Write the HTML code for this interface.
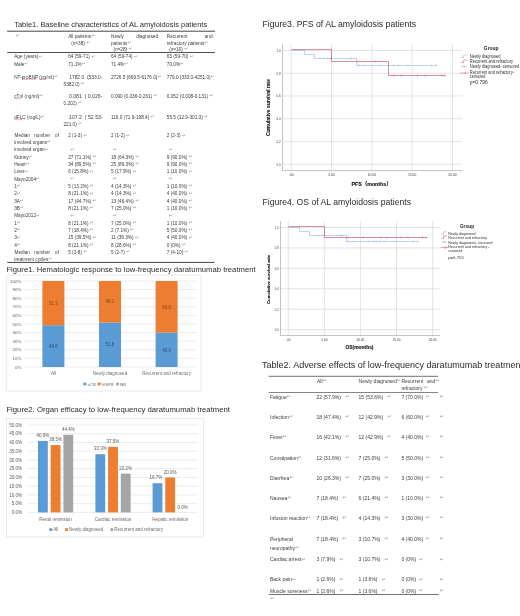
<!DOCTYPE html>
<html lang="en">
<head>
<meta charset="utf-8">
<title>AL amyloidosis tables and figures</title>
<style>
html,body{margin:0;padding:0;background:#fff;}
body{width:520px;height:616px;overflow:hidden;}
svg{display:block;font-family:"Liberation Sans", "DejaVu Sans", "Noto Sans CJK SC", sans-serif;filter:blur(0.3px);}
text{white-space:pre;}
</style>
</head>
<body>
<svg width="520" height="616" viewBox="0 0 520 616" role="img" aria-label="Tables and figures for AL amyloidosis patients">
<text x="14.20" y="26.64" font-size="8.0" fill="#2a2a2a" textLength="193.00" lengthAdjust="spacingAndGlyphs">Table1. Baseline characteristics of AL amyloidosis patients</text>
<text x="6.40" y="272.24" font-size="8.0" fill="#2a2a2a" textLength="249.20" lengthAdjust="spacingAndGlyphs">Figure1. Hematologic response to low-frequency daratumumab treatment</text>
<text x="6.40" y="412.24" font-size="8.0" fill="#2a2a2a" textLength="223.60" lengthAdjust="spacingAndGlyphs">Figure2. Organ efficacy to low-frequency daratumumab treatment</text>
<text x="262.50" y="26.87" font-size="8.6" fill="#2a2a2a" textLength="153.50" lengthAdjust="spacingAndGlyphs">Figure3. PFS of AL amyloidosis patients</text>
<text x="262.50" y="204.87" font-size="8.6" fill="#2a2a2a" textLength="148.50" lengthAdjust="spacingAndGlyphs">Figure4. OS of AL amyloidosis patients</text>
<text x="262.00" y="368.27" font-size="8.6" fill="#2a2a2a" textLength="261.00" lengthAdjust="spacingAndGlyphs">Table2. Adverse effects of low-frequency daratumumab treatment</text>
<line x1="7.20" y1="31.20" x2="215.00" y2="31.20" stroke="#222" stroke-width="0.85"/>
<line x1="7.20" y1="52.50" x2="215.00" y2="52.50" stroke="#222" stroke-width="0.8"/>
<line x1="7.20" y1="262.40" x2="214.50" y2="262.40" stroke="#222" stroke-width="0.85"/>
<text x="15.50" y="37.57" font-size="4.7" fill="#3c3c3c"><tspan fill="#9a9a9a" font-size="4.70" dy="-0.7">↵</tspan></text>
<text x="68.20" y="37.57" font-size="4.7" fill="#3c3c3c">All patients<tspan fill="#9a9a9a" font-size="4.70" dy="-0.7">↵</tspan></text>
<text x="71.20" y="44.57" font-size="4.7" fill="#3c3c3c">(n=38) <tspan fill="#9a9a9a" font-size="4.70" dy="-0.7">↵</tspan></text>
<text x="111.00" y="37.57" font-size="4.7" fill="#3c3c3c">Newly</text>
<text x="158.00" y="37.57" font-size="4.7" fill="#3c3c3c" text-anchor="end">diagnosed</text>
<text x="111.00" y="44.57" font-size="4.7" fill="#3c3c3c">patients<tspan fill="#9a9a9a" font-size="4.70" dy="-0.7">↵</tspan></text>
<text x="113.40" y="50.97" font-size="4.7" fill="#3c3c3c">(n=28) <tspan fill="#9a9a9a" font-size="4.70" dy="-0.7">↵</tspan></text>
<text x="166.80" y="37.57" font-size="4.7" fill="#3c3c3c">Recurrent</text>
<text x="212.50" y="37.57" font-size="4.7" fill="#3c3c3c" text-anchor="end">and</text>
<text x="166.80" y="44.57" font-size="4.7" fill="#3c3c3c">refractory patients<tspan fill="#9a9a9a" font-size="4.70" dy="-0.7">↵</tspan></text>
<text x="169.20" y="50.97" font-size="4.7" fill="#3c3c3c">(n=10) <tspan fill="#9a9a9a" font-size="4.70" dy="-0.7">↵</tspan></text>
<text x="14.20" y="58.27" font-size="4.7" fill="#3c3c3c">Age (years)<tspan fill="#9a9a9a" font-size="4.70" dy="-0.7">↵</tspan></text>
<text x="68.20" y="58.27" font-size="4.7" fill="#3c3c3c">64 (59-71) <tspan fill="#9a9a9a" font-size="4.70" dy="-0.7">↵</tspan></text>
<text x="111.00" y="58.27" font-size="4.7" fill="#3c3c3c">64 (59-74) <tspan fill="#9a9a9a" font-size="4.70" dy="-0.7">↵</tspan></text>
<text x="166.80" y="58.27" font-size="4.7" fill="#3c3c3c">65 (59-70) <tspan fill="#9a9a9a" font-size="4.70" dy="-0.7">↵</tspan></text>
<text x="14.20" y="65.77" font-size="4.7" fill="#3c3c3c">Male<tspan fill="#9a9a9a" font-size="4.70" dy="-0.7">↵</tspan></text>
<text x="68.20" y="65.77" font-size="4.7" fill="#3c3c3c">71.1%<tspan fill="#9a9a9a" font-size="4.70" dy="-0.7">↵</tspan></text>
<text x="111.00" y="65.77" font-size="4.7" fill="#3c3c3c">71.4%<tspan fill="#9a9a9a" font-size="4.70" dy="-0.7">↵</tspan></text>
<text x="166.80" y="65.77" font-size="4.7" fill="#3c3c3c">70.0%<tspan fill="#9a9a9a" font-size="4.70" dy="-0.7">↵</tspan></text>
<text x="14.20" y="78.87" font-size="4.7" fill="#3c3c3c">NT-proBNP (pg/ml)<tspan fill="#9a9a9a" font-size="4.70" dy="-0.7">↵</tspan></text>
<text x="111.00" y="78.87" font-size="4.7" fill="#3c3c3c">2726.5 (669.5-6176.0)<tspan fill="#9a9a9a" font-size="4.70" dy="-0.7">↵</tspan></text>
<text x="166.80" y="78.87" font-size="4.7" fill="#3c3c3c">779.0 (333.0-4251.0)<tspan fill="#9a9a9a" font-size="4.70" dy="-0.7">↵</tspan></text>
<text x="14.20" y="98.07" font-size="4.7" fill="#3c3c3c">cTnI (ng/ml)<tspan fill="#9a9a9a" font-size="4.70" dy="-0.7">↵</tspan></text>
<text x="111.00" y="98.07" font-size="4.7" fill="#3c3c3c">0.090 (0.036-0.261) <tspan fill="#9a9a9a" font-size="4.70" dy="-0.7">↵</tspan></text>
<text x="166.80" y="98.07" font-size="4.7" fill="#3c3c3c">0.052 (0.008-0.131) <tspan fill="#9a9a9a" font-size="4.70" dy="-0.7">↵</tspan></text>
<text x="14.20" y="119.17" font-size="4.7" fill="#3c3c3c">dFLC (mg/L)<tspan fill="#9a9a9a" font-size="4.70" dy="-0.7">↵</tspan></text>
<text x="111.00" y="119.17" font-size="4.7" fill="#3c3c3c">116.0 (71.9-198.4) <tspan fill="#9a9a9a" font-size="4.70" dy="-0.7">↵</tspan></text>
<text x="166.80" y="119.17" font-size="4.7" fill="#3c3c3c">55.5 (12.9-301.3) <tspan fill="#9a9a9a" font-size="4.70" dy="-0.7">↵</tspan></text>
<text x="68.20" y="137.47" font-size="4.7" fill="#3c3c3c">2 (1-3) <tspan fill="#9a9a9a" font-size="4.70" dy="-0.7">↵</tspan></text>
<text x="111.00" y="137.47" font-size="4.7" fill="#3c3c3c">2 (1-2) <tspan fill="#9a9a9a" font-size="4.70" dy="-0.7">↵</tspan></text>
<text x="166.80" y="137.47" font-size="4.7" fill="#3c3c3c">2 (2-3) <tspan fill="#9a9a9a" font-size="4.70" dy="-0.7">↵</tspan></text>
<text x="14.20" y="151.37" font-size="4.7" fill="#3c3c3c">involved organ<tspan fill="#9a9a9a" font-size="4.70" dy="-0.7">↵</tspan></text>
<text x="70.20" y="151.37" font-size="4.7" fill="#3c3c3c"><tspan fill="#9a9a9a" font-size="4.70" dy="-0.7">↵</tspan></text>
<text x="113.00" y="151.37" font-size="4.7" fill="#3c3c3c"><tspan fill="#9a9a9a" font-size="4.70" dy="-0.7">↵</tspan></text>
<text x="168.80" y="151.37" font-size="4.7" fill="#3c3c3c"><tspan fill="#9a9a9a" font-size="4.70" dy="-0.7">↵</tspan></text>
<text x="14.20" y="158.77" font-size="4.7" fill="#3c3c3c">Kidney<tspan fill="#9a9a9a" font-size="4.70" dy="-0.7">↵</tspan></text>
<text x="68.20" y="158.77" font-size="4.7" fill="#3c3c3c">27 (71.1%) <tspan fill="#9a9a9a" font-size="4.70" dy="-0.7">↵</tspan></text>
<text x="111.00" y="158.77" font-size="4.7" fill="#3c3c3c">18 (64.3%) <tspan fill="#9a9a9a" font-size="4.70" dy="-0.7">↵</tspan></text>
<text x="166.80" y="158.77" font-size="4.7" fill="#3c3c3c">9 (90.0%) <tspan fill="#9a9a9a" font-size="4.70" dy="-0.7">↵</tspan></text>
<text x="14.20" y="166.07" font-size="4.7" fill="#3c3c3c">Heart<tspan fill="#9a9a9a" font-size="4.70" dy="-0.7">↵</tspan></text>
<text x="68.20" y="166.07" font-size="4.7" fill="#3c3c3c">34 (89.5%) <tspan fill="#9a9a9a" font-size="4.70" dy="-0.7">↵</tspan></text>
<text x="111.00" y="166.07" font-size="4.7" fill="#3c3c3c">25 (89.3%) <tspan fill="#9a9a9a" font-size="4.70" dy="-0.7">↵</tspan></text>
<text x="166.80" y="166.07" font-size="4.7" fill="#3c3c3c">9 (90.0%) <tspan fill="#9a9a9a" font-size="4.70" dy="-0.7">↵</tspan></text>
<text x="14.20" y="173.37" font-size="4.7" fill="#3c3c3c">Liver<tspan fill="#9a9a9a" font-size="4.70" dy="-0.7">↵</tspan></text>
<text x="68.20" y="173.37" font-size="4.7" fill="#3c3c3c">6 (15.8%) <tspan fill="#9a9a9a" font-size="4.70" dy="-0.7">↵</tspan></text>
<text x="111.00" y="173.37" font-size="4.7" fill="#3c3c3c">5 (17.9%) <tspan fill="#9a9a9a" font-size="4.70" dy="-0.7">↵</tspan></text>
<text x="166.80" y="173.37" font-size="4.7" fill="#3c3c3c">1 (10.0%) <tspan fill="#9a9a9a" font-size="4.70" dy="-0.7">↵</tspan></text>
<text x="14.20" y="180.67" font-size="4.7" fill="#3c3c3c">Mayo2004<tspan fill="#9a9a9a" font-size="4.70" dy="-0.7">↵</tspan></text>
<text x="70.20" y="180.67" font-size="4.7" fill="#3c3c3c"><tspan fill="#9a9a9a" font-size="4.70" dy="-0.7">↵</tspan></text>
<text x="113.00" y="180.67" font-size="4.7" fill="#3c3c3c"><tspan fill="#9a9a9a" font-size="4.70" dy="-0.7">↵</tspan></text>
<text x="168.80" y="180.67" font-size="4.7" fill="#3c3c3c"><tspan fill="#9a9a9a" font-size="4.70" dy="-0.7">↵</tspan></text>
<text x="14.20" y="188.07" font-size="4.7" fill="#3c3c3c">1<tspan fill="#9a9a9a" font-size="4.70" dy="-0.7">↵</tspan></text>
<text x="68.20" y="188.07" font-size="4.7" fill="#3c3c3c">5 (13.2%) <tspan fill="#9a9a9a" font-size="4.70" dy="-0.7">↵</tspan></text>
<text x="111.00" y="188.07" font-size="4.7" fill="#3c3c3c">4 (14.3%) <tspan fill="#9a9a9a" font-size="4.70" dy="-0.7">↵</tspan></text>
<text x="166.80" y="188.07" font-size="4.7" fill="#3c3c3c">1 (10.0%) <tspan fill="#9a9a9a" font-size="4.70" dy="-0.7">↵</tspan></text>
<text x="14.20" y="195.37" font-size="4.7" fill="#3c3c3c">2<tspan fill="#9a9a9a" font-size="4.70" dy="-0.7">↵</tspan></text>
<text x="68.20" y="195.37" font-size="4.7" fill="#3c3c3c">8 (21.1%) <tspan fill="#9a9a9a" font-size="4.70" dy="-0.7">↵</tspan></text>
<text x="111.00" y="195.37" font-size="4.7" fill="#3c3c3c">4 (14.3%) <tspan fill="#9a9a9a" font-size="4.70" dy="-0.7">↵</tspan></text>
<text x="166.80" y="195.37" font-size="4.7" fill="#3c3c3c">4 (40.0%) <tspan fill="#9a9a9a" font-size="4.70" dy="-0.7">↵</tspan></text>
<text x="14.20" y="202.67" font-size="4.7" fill="#3c3c3c">3A<tspan fill="#9a9a9a" font-size="4.70" dy="-0.7">↵</tspan></text>
<text x="68.20" y="202.67" font-size="4.7" fill="#3c3c3c">17 (44.7%) <tspan fill="#9a9a9a" font-size="4.70" dy="-0.7">↵</tspan></text>
<text x="111.00" y="202.67" font-size="4.7" fill="#3c3c3c">13 (46.4%) <tspan fill="#9a9a9a" font-size="4.70" dy="-0.7">↵</tspan></text>
<text x="166.80" y="202.67" font-size="4.7" fill="#3c3c3c">4 (40.0%) <tspan fill="#9a9a9a" font-size="4.70" dy="-0.7">↵</tspan></text>
<text x="14.20" y="209.97" font-size="4.7" fill="#3c3c3c">3B<tspan fill="#9a9a9a" font-size="4.70" dy="-0.7">↵</tspan></text>
<text x="68.20" y="209.97" font-size="4.7" fill="#3c3c3c">8 (21.1%) <tspan fill="#9a9a9a" font-size="4.70" dy="-0.7">↵</tspan></text>
<text x="111.00" y="209.97" font-size="4.7" fill="#3c3c3c">7 (25.0%) <tspan fill="#9a9a9a" font-size="4.70" dy="-0.7">↵</tspan></text>
<text x="166.80" y="209.97" font-size="4.7" fill="#3c3c3c">1 (10.0%) <tspan fill="#9a9a9a" font-size="4.70" dy="-0.7">↵</tspan></text>
<text x="14.20" y="217.37" font-size="4.7" fill="#3c3c3c">Mayo2012<tspan fill="#9a9a9a" font-size="4.70" dy="-0.7">↵</tspan></text>
<text x="70.20" y="217.37" font-size="4.7" fill="#3c3c3c"><tspan fill="#9a9a9a" font-size="4.70" dy="-0.7">↵</tspan></text>
<text x="113.00" y="217.37" font-size="4.7" fill="#3c3c3c"><tspan fill="#9a9a9a" font-size="4.70" dy="-0.7">↵</tspan></text>
<text x="168.80" y="217.37" font-size="4.7" fill="#3c3c3c"><tspan fill="#9a9a9a" font-size="4.70" dy="-0.7">↵</tspan></text>
<text x="14.20" y="224.77" font-size="4.7" fill="#3c3c3c">1<tspan fill="#9a9a9a" font-size="4.70" dy="-0.7">↵</tspan></text>
<text x="68.20" y="224.77" font-size="4.7" fill="#3c3c3c">8 (21.1%) <tspan fill="#9a9a9a" font-size="4.70" dy="-0.7">↵</tspan></text>
<text x="111.00" y="224.77" font-size="4.7" fill="#3c3c3c">7 (25.0%) <tspan fill="#9a9a9a" font-size="4.70" dy="-0.7">↵</tspan></text>
<text x="166.80" y="224.77" font-size="4.7" fill="#3c3c3c">1 (10.0%) <tspan fill="#9a9a9a" font-size="4.70" dy="-0.7">↵</tspan></text>
<text x="14.20" y="232.17" font-size="4.7" fill="#3c3c3c">2<tspan fill="#9a9a9a" font-size="4.70" dy="-0.7">↵</tspan></text>
<text x="68.20" y="232.17" font-size="4.7" fill="#3c3c3c">7 (18.4%) <tspan fill="#9a9a9a" font-size="4.70" dy="-0.7">↵</tspan></text>
<text x="111.00" y="232.17" font-size="4.7" fill="#3c3c3c">2 (7.1%) <tspan fill="#9a9a9a" font-size="4.70" dy="-0.7">↵</tspan></text>
<text x="166.80" y="232.17" font-size="4.7" fill="#3c3c3c">5 (50.0%) <tspan fill="#9a9a9a" font-size="4.70" dy="-0.7">↵</tspan></text>
<text x="14.20" y="239.47" font-size="4.7" fill="#3c3c3c">3<tspan fill="#9a9a9a" font-size="4.70" dy="-0.7">↵</tspan></text>
<text x="68.20" y="239.47" font-size="4.7" fill="#3c3c3c">15 (39.5%) <tspan fill="#9a9a9a" font-size="4.70" dy="-0.7">↵</tspan></text>
<text x="111.00" y="239.47" font-size="4.7" fill="#3c3c3c">11 (39.3%) <tspan fill="#9a9a9a" font-size="4.70" dy="-0.7">↵</tspan></text>
<text x="166.80" y="239.47" font-size="4.7" fill="#3c3c3c">4 (40.0%) <tspan fill="#9a9a9a" font-size="4.70" dy="-0.7">↵</tspan></text>
<text x="14.20" y="246.77" font-size="4.7" fill="#3c3c3c">4<tspan fill="#9a9a9a" font-size="4.70" dy="-0.7">↵</tspan></text>
<text x="68.20" y="246.77" font-size="4.7" fill="#3c3c3c">8 (21.1%) <tspan fill="#9a9a9a" font-size="4.70" dy="-0.7">↵</tspan></text>
<text x="111.00" y="246.77" font-size="4.7" fill="#3c3c3c">8 (28.6%) <tspan fill="#9a9a9a" font-size="4.70" dy="-0.7">↵</tspan></text>
<text x="166.80" y="246.77" font-size="4.7" fill="#3c3c3c">0 (0%) <tspan fill="#9a9a9a" font-size="4.70" dy="-0.7">↵</tspan></text>
<text x="68.20" y="253.97" font-size="4.7" fill="#3c3c3c">5 (2-8) <tspan fill="#9a9a9a" font-size="4.70" dy="-0.7">↵</tspan></text>
<text x="111.00" y="253.97" font-size="4.7" fill="#3c3c3c">5 (2-7) <tspan fill="#9a9a9a" font-size="4.70" dy="-0.7">↵</tspan></text>
<text x="166.80" y="253.97" font-size="4.7" fill="#3c3c3c">7 (4-10) <tspan fill="#9a9a9a" font-size="4.70" dy="-0.7">↵</tspan></text>
<text x="69.20" y="78.87" font-size="4.7" fill="#3c3c3c" textLength="33.20" lengthAdjust="spacingAndGlyphs">1782.0  (533.0-</text>
<text x="63.60" y="85.67" font-size="4.7" fill="#3c3c3c">5382.0) <tspan fill="#9a9a9a" font-size="4.70" dy="-0.7">↵</tspan></text>
<text x="68.90" y="98.07" font-size="4.7" fill="#3c3c3c" textLength="33.50" lengthAdjust="spacingAndGlyphs">0.081  ( 0.026-</text>
<text x="63.50" y="104.97" font-size="4.7" fill="#3c3c3c">0.202) <tspan fill="#9a9a9a" font-size="4.70" dy="-0.7">↵</tspan></text>
<text x="69.10" y="119.17" font-size="4.7" fill="#3c3c3c" textLength="33.50" lengthAdjust="spacingAndGlyphs">107.2  ( 52.53-</text>
<text x="63.50" y="125.87" font-size="4.7" fill="#3c3c3c">221.0) <tspan fill="#9a9a9a" font-size="4.70" dy="-0.7">↵</tspan></text>
<text x="14.60" y="137.47" font-size="4.7" fill="#3c3c3c">Median</text>
<text x="42.20" y="137.47" font-size="4.7" fill="#3c3c3c" text-anchor="middle">number</text>
<text x="59.00" y="137.47" font-size="4.7" fill="#3c3c3c" text-anchor="end">of</text>
<text x="14.20" y="144.17" font-size="4.7" fill="#3c3c3c">involved organs<tspan fill="#9a9a9a" font-size="4.70" dy="-0.7">↵</tspan></text>
<text x="14.60" y="253.97" font-size="4.7" fill="#3c3c3c">Median</text>
<text x="42.20" y="253.97" font-size="4.7" fill="#3c3c3c" text-anchor="middle">number</text>
<text x="59.00" y="253.97" font-size="4.7" fill="#3c3c3c" text-anchor="end">of</text>
<text x="14.20" y="260.57" font-size="4.7" fill="#3c3c3c">treatment cycles<tspan fill="#9a9a9a" font-size="4.70" dy="-0.7">↵</tspan></text>
<line x1="22.50" y1="79.30" x2="36.50" y2="79.30" stroke="#e06060" stroke-width="0.5"/>
<line x1="39.20" y1="79.30" x2="44.60" y2="79.30" stroke="#e06060" stroke-width="0.5"/>
<line x1="14.20" y1="98.60" x2="20.60" y2="98.60" stroke="#e06060" stroke-width="0.5"/>
<line x1="14.20" y1="119.70" x2="22.40" y2="119.70" stroke="#e06060" stroke-width="0.5"/>
<rect x="6.80" y="275.00" width="194.20" height="116.00" fill="#fff" stroke="#dedede" stroke-width="0.6"/>
<line x1="25.00" y1="367.00" x2="196.00" y2="367.00" stroke="#d9d9d9" stroke-width="0.5"/>
<text x="21.30" y="368.67" font-size="4.4" fill="#5e5e5e" text-anchor="end">0%</text>
<line x1="25.00" y1="358.40" x2="196.00" y2="358.40" stroke="#d9d9d9" stroke-width="0.5"/>
<text x="21.30" y="360.07" font-size="4.4" fill="#5e5e5e" text-anchor="end">10%</text>
<line x1="25.00" y1="349.80" x2="196.00" y2="349.80" stroke="#d9d9d9" stroke-width="0.5"/>
<text x="21.30" y="351.47" font-size="4.4" fill="#5e5e5e" text-anchor="end">20%</text>
<line x1="25.00" y1="341.20" x2="196.00" y2="341.20" stroke="#d9d9d9" stroke-width="0.5"/>
<text x="21.30" y="342.87" font-size="4.4" fill="#5e5e5e" text-anchor="end">30%</text>
<line x1="25.00" y1="332.60" x2="196.00" y2="332.60" stroke="#d9d9d9" stroke-width="0.5"/>
<text x="21.30" y="334.27" font-size="4.4" fill="#5e5e5e" text-anchor="end">40%</text>
<line x1="25.00" y1="324.00" x2="196.00" y2="324.00" stroke="#d9d9d9" stroke-width="0.5"/>
<text x="21.30" y="325.67" font-size="4.4" fill="#5e5e5e" text-anchor="end">50%</text>
<line x1="25.00" y1="315.40" x2="196.00" y2="315.40" stroke="#d9d9d9" stroke-width="0.5"/>
<text x="21.30" y="317.07" font-size="4.4" fill="#5e5e5e" text-anchor="end">60%</text>
<line x1="25.00" y1="306.80" x2="196.00" y2="306.80" stroke="#d9d9d9" stroke-width="0.5"/>
<text x="21.30" y="308.47" font-size="4.4" fill="#5e5e5e" text-anchor="end">70%</text>
<line x1="25.00" y1="298.20" x2="196.00" y2="298.20" stroke="#d9d9d9" stroke-width="0.5"/>
<text x="21.30" y="299.87" font-size="4.4" fill="#5e5e5e" text-anchor="end">80%</text>
<line x1="25.00" y1="289.60" x2="196.00" y2="289.60" stroke="#d9d9d9" stroke-width="0.5"/>
<text x="21.30" y="291.27" font-size="4.4" fill="#5e5e5e" text-anchor="end">90%</text>
<line x1="25.00" y1="281.00" x2="196.00" y2="281.00" stroke="#d9d9d9" stroke-width="0.5"/>
<text x="21.30" y="282.67" font-size="4.4" fill="#5e5e5e" text-anchor="end">100%</text>
<rect x="42.40" y="325.20" width="22.00" height="41.80" fill="#5b9bd5"/>
<rect x="42.40" y="281.00" width="22.00" height="44.20" fill="#ed7d31"/>
<text x="53.40" y="347.81" font-size="4.5" fill="#2f4d70" text-anchor="middle">48.6</text>
<text x="53.40" y="304.81" font-size="4.5" fill="#8a4413" text-anchor="middle">51.3</text>
<text x="53.40" y="374.91" font-size="4.5" fill="#707070" text-anchor="middle">All</text>
<rect x="99.00" y="322.45" width="22.00" height="44.55" fill="#5b9bd5"/>
<rect x="99.00" y="281.00" width="22.00" height="41.45" fill="#ed7d31"/>
<text x="110.00" y="346.44" font-size="4.5" fill="#2f4d70" text-anchor="middle">51.8</text>
<text x="110.00" y="303.44" font-size="4.5" fill="#8a4413" text-anchor="middle">48.1</text>
<text x="110.00" y="374.91" font-size="4.5" fill="#707070" text-anchor="middle">Newly diagnosed</text>
<rect x="155.60" y="332.60" width="22.00" height="34.40" fill="#5b9bd5"/>
<rect x="155.60" y="281.00" width="22.00" height="51.60" fill="#ed7d31"/>
<text x="166.60" y="351.51" font-size="4.5" fill="#2f4d70" text-anchor="middle">40.0</text>
<text x="166.60" y="308.51" font-size="4.5" fill="#8a4413" text-anchor="middle">60.0</text>
<text x="166.60" y="374.91" font-size="4.5" fill="#707070" text-anchor="middle">Recurrent and refractory</text>
<rect x="83.40" y="382.60" width="2.80" height="2.80" fill="#5b9bd5"/>
<text x="87.40" y="385.63" font-size="4.3" fill="#5a5a5a">sCR</text>
<rect x="97.80" y="382.60" width="2.80" height="2.80" fill="#ed7d31"/>
<text x="101.40" y="385.63" font-size="4.3" fill="#5a5a5a">VGPR</text>
<rect x="116.20" y="382.60" width="2.80" height="2.80" fill="#a5a5a5"/>
<text x="120.00" y="385.63" font-size="4.3" fill="#5a5a5a">NR</text>
<rect x="6.40" y="418.40" width="197.00" height="118.60" fill="#fff" stroke="#dedede" stroke-width="0.6"/>
<line x1="27.00" y1="512.40" x2="198.00" y2="512.40" stroke="#d9d9d9" stroke-width="0.5"/>
<text x="22.20" y="514.15" font-size="4.6" fill="#5e5e5e" text-anchor="end">0.0%</text>
<line x1="27.00" y1="503.66" x2="198.00" y2="503.66" stroke="#d9d9d9" stroke-width="0.5"/>
<text x="22.20" y="505.41" font-size="4.6" fill="#5e5e5e" text-anchor="end">5.0%</text>
<line x1="27.00" y1="494.92" x2="198.00" y2="494.92" stroke="#d9d9d9" stroke-width="0.5"/>
<text x="22.20" y="496.67" font-size="4.6" fill="#5e5e5e" text-anchor="end">10.0%</text>
<line x1="27.00" y1="486.18" x2="198.00" y2="486.18" stroke="#d9d9d9" stroke-width="0.5"/>
<text x="22.20" y="487.93" font-size="4.6" fill="#5e5e5e" text-anchor="end">15.0%</text>
<line x1="27.00" y1="477.44" x2="198.00" y2="477.44" stroke="#d9d9d9" stroke-width="0.5"/>
<text x="22.20" y="479.19" font-size="4.6" fill="#5e5e5e" text-anchor="end">20.0%</text>
<line x1="27.00" y1="468.70" x2="198.00" y2="468.70" stroke="#d9d9d9" stroke-width="0.5"/>
<text x="22.20" y="470.45" font-size="4.6" fill="#5e5e5e" text-anchor="end">25.0%</text>
<line x1="27.00" y1="459.96" x2="198.00" y2="459.96" stroke="#d9d9d9" stroke-width="0.5"/>
<text x="22.20" y="461.71" font-size="4.6" fill="#5e5e5e" text-anchor="end">30.0%</text>
<line x1="27.00" y1="451.22" x2="198.00" y2="451.22" stroke="#d9d9d9" stroke-width="0.5"/>
<text x="22.20" y="452.97" font-size="4.6" fill="#5e5e5e" text-anchor="end">35.0%</text>
<line x1="27.00" y1="442.48" x2="198.00" y2="442.48" stroke="#d9d9d9" stroke-width="0.5"/>
<text x="22.20" y="444.23" font-size="4.6" fill="#5e5e5e" text-anchor="end">40.0%</text>
<line x1="27.00" y1="433.74" x2="198.00" y2="433.74" stroke="#d9d9d9" stroke-width="0.5"/>
<text x="22.20" y="435.49" font-size="4.6" fill="#5e5e5e" text-anchor="end">45.0%</text>
<line x1="27.00" y1="425.00" x2="198.00" y2="425.00" stroke="#d9d9d9" stroke-width="0.5"/>
<text x="22.20" y="426.75" font-size="4.6" fill="#5e5e5e" text-anchor="end">50.0%</text>
<rect x="38.00" y="440.91" width="9.80" height="71.49" fill="#5b9bd5"/>
<text x="42.90" y="437.12" font-size="4.5" fill="#5a5a5a" text-anchor="middle">40.9%</text>
<rect x="50.70" y="445.10" width="9.80" height="67.30" fill="#ed7d31"/>
<text x="55.60" y="441.31" font-size="4.5" fill="#5a5a5a" text-anchor="middle">38.5%</text>
<rect x="63.40" y="434.79" width="9.80" height="77.61" fill="#a5a5a5"/>
<text x="68.30" y="431.00" font-size="4.5" fill="#5a5a5a" text-anchor="middle">44.4%</text>
<text x="55.60" y="520.93" font-size="4.55" fill="#6a6a6a" text-anchor="middle">Renal remission</text>
<rect x="95.40" y="454.19" width="9.80" height="58.21" fill="#5b9bd5"/>
<text x="100.30" y="450.40" font-size="4.5" fill="#5a5a5a" text-anchor="middle">33.3%</text>
<rect x="108.10" y="446.85" width="9.80" height="65.55" fill="#ed7d31"/>
<text x="113.00" y="443.06" font-size="4.5" fill="#5a5a5a" text-anchor="middle">37.5%</text>
<rect x="120.80" y="473.59" width="9.80" height="38.81" fill="#a5a5a5"/>
<text x="125.70" y="469.80" font-size="4.5" fill="#5a5a5a" text-anchor="middle">22.2%</text>
<text x="113.00" y="520.93" font-size="4.55" fill="#6a6a6a" text-anchor="middle">Cardiac remission</text>
<rect x="152.60" y="483.21" width="9.80" height="29.19" fill="#5b9bd5"/>
<text x="156.00" y="479.42" font-size="4.5" fill="#5a5a5a" text-anchor="middle">16.7%</text>
<rect x="165.30" y="477.44" width="9.80" height="34.96" fill="#ed7d31"/>
<text x="170.20" y="473.65" font-size="4.5" fill="#5a5a5a" text-anchor="middle">20.0%</text>
<text x="182.70" y="508.61" font-size="4.5" fill="#5a5a5a" text-anchor="middle">0.0%</text>
<text x="170.20" y="520.93" font-size="4.55" fill="#6a6a6a" text-anchor="middle">Hepatic remission</text>
<rect x="49.40" y="528.20" width="2.80" height="2.80" fill="#5b9bd5"/>
<text x="53.20" y="531.31" font-size="4.5" fill="#6a6a6a">All</text>
<rect x="65.20" y="528.20" width="2.80" height="2.80" fill="#ed7d31"/>
<text x="69.00" y="531.31" font-size="4.5" fill="#6a6a6a">Newly diagnosed</text>
<rect x="110.40" y="528.20" width="2.80" height="2.80" fill="#a5a5a5"/>
<text x="114.20" y="531.31" font-size="4.5" fill="#6a6a6a">Recurrent and refractory</text>
<line x1="282.50" y1="164.20" x2="462.50" y2="164.20" stroke="#c8c8c8" stroke-width="0.5"/>
<text x="280.70" y="165.64" font-size="3.0" fill="#3a3a3a" text-anchor="end">0.0</text>
<line x1="282.50" y1="141.46" x2="462.50" y2="141.46" stroke="#c8c8c8" stroke-width="0.5"/>
<text x="280.70" y="142.90" font-size="3.0" fill="#3a3a3a" text-anchor="end">0.2</text>
<line x1="282.50" y1="118.72" x2="462.50" y2="118.72" stroke="#c8c8c8" stroke-width="0.5"/>
<text x="280.70" y="120.16" font-size="3.0" fill="#3a3a3a" text-anchor="end">0.4</text>
<line x1="282.50" y1="95.98" x2="462.50" y2="95.98" stroke="#c8c8c8" stroke-width="0.5"/>
<text x="280.70" y="97.42" font-size="3.0" fill="#3a3a3a" text-anchor="end">0.6</text>
<line x1="282.50" y1="73.24" x2="462.50" y2="73.24" stroke="#c8c8c8" stroke-width="0.5"/>
<text x="280.70" y="74.68" font-size="3.0" fill="#3a3a3a" text-anchor="end">0.8</text>
<line x1="282.50" y1="50.50" x2="462.50" y2="50.50" stroke="#c8c8c8" stroke-width="0.5"/>
<text x="280.70" y="51.94" font-size="3.0" fill="#3a3a3a" text-anchor="end">1.0</text>
<line x1="291.25" y1="44.50" x2="291.25" y2="170.60" stroke="#c8c8c8" stroke-width="0.5"/>
<text x="291.25" y="176.48" font-size="3.3600000000000003" fill="#3a3a3a" text-anchor="middle">.00</text>
<line x1="331.55" y1="44.50" x2="331.55" y2="170.60" stroke="#c8c8c8" stroke-width="0.5"/>
<text x="331.55" y="176.48" font-size="3.3600000000000003" fill="#3a3a3a" text-anchor="middle">5.00</text>
<line x1="371.85" y1="44.50" x2="371.85" y2="170.60" stroke="#c8c8c8" stroke-width="0.5"/>
<text x="371.85" y="176.48" font-size="3.3600000000000003" fill="#3a3a3a" text-anchor="middle">10.00</text>
<line x1="412.15" y1="44.50" x2="412.15" y2="170.60" stroke="#c8c8c8" stroke-width="0.5"/>
<text x="412.15" y="176.48" font-size="3.3600000000000003" fill="#3a3a3a" text-anchor="middle">15.00</text>
<line x1="452.45" y1="44.50" x2="452.45" y2="170.60" stroke="#c8c8c8" stroke-width="0.5"/>
<text x="452.45" y="176.48" font-size="3.3600000000000003" fill="#3a3a3a" text-anchor="middle">20.00</text>
<line x1="282.50" y1="44.50" x2="282.50" y2="170.60" stroke="#9a9a9a" stroke-width="0.6"/>
<line x1="282.50" y1="170.60" x2="462.50" y2="170.60" stroke="#9a9a9a" stroke-width="0.6"/>
<path d="M291.25,50.50 L304.50,50.50 L304.50,54.50 L314.50,54.50 L314.50,58.50 L356.50,58.50 L356.50,65.50 L436.50,65.50" fill="none" stroke="#7fa8d6" stroke-width="0.5"/>
<path d="M291.25,49.50 L331.50,49.50 L331.50,61.50 L388.50,61.50 L388.50,75.50 L445.50,75.50" fill="none" stroke="#bf4562" stroke-width="0.6"/>
<line x1="320.00" y1="57.50" x2="320.00" y2="59.50" stroke="#7fa8d6" stroke-width="0.5"/>
<line x1="323.75" y1="57.50" x2="323.75" y2="59.50" stroke="#7fa8d6" stroke-width="0.5"/>
<line x1="327.50" y1="57.50" x2="327.50" y2="59.50" stroke="#7fa8d6" stroke-width="0.5"/>
<line x1="330.75" y1="57.50" x2="330.75" y2="59.50" stroke="#7fa8d6" stroke-width="0.5"/>
<line x1="351.25" y1="57.50" x2="351.25" y2="59.50" stroke="#7fa8d6" stroke-width="0.5"/>
<line x1="358.75" y1="64.50" x2="358.75" y2="66.50" stroke="#7fa8d6" stroke-width="0.5"/>
<line x1="364.50" y1="64.50" x2="364.50" y2="66.50" stroke="#7fa8d6" stroke-width="0.5"/>
<line x1="380.50" y1="64.50" x2="380.50" y2="66.50" stroke="#7fa8d6" stroke-width="0.5"/>
<line x1="388.75" y1="64.50" x2="388.75" y2="66.50" stroke="#7fa8d6" stroke-width="0.5"/>
<line x1="393.75" y1="64.50" x2="393.75" y2="66.50" stroke="#7fa8d6" stroke-width="0.5"/>
<line x1="398.75" y1="64.50" x2="398.75" y2="66.50" stroke="#7fa8d6" stroke-width="0.5"/>
<line x1="408.00" y1="64.50" x2="408.00" y2="66.50" stroke="#7fa8d6" stroke-width="0.5"/>
<line x1="431.25" y1="64.50" x2="431.25" y2="66.50" stroke="#7fa8d6" stroke-width="0.5"/>
<line x1="436.25" y1="64.50" x2="436.25" y2="66.50" stroke="#7fa8d6" stroke-width="0.5"/>
<line x1="358.00" y1="60.50" x2="358.00" y2="62.50" stroke="#bf4562" stroke-width="0.5"/>
<line x1="375.00" y1="60.50" x2="375.00" y2="62.50" stroke="#bf4562" stroke-width="0.5"/>
<line x1="393.75" y1="74.50" x2="393.75" y2="76.50" stroke="#bf4562" stroke-width="0.5"/>
<line x1="401.25" y1="74.50" x2="401.25" y2="76.50" stroke="#bf4562" stroke-width="0.5"/>
<line x1="417.50" y1="74.50" x2="417.50" y2="76.50" stroke="#bf4562" stroke-width="0.5"/>
<line x1="425.00" y1="74.50" x2="425.00" y2="76.50" stroke="#bf4562" stroke-width="0.5"/>
<line x1="442.00" y1="74.50" x2="442.00" y2="76.50" stroke="#bf4562" stroke-width="0.5"/>
<line x1="445.00" y1="74.50" x2="445.00" y2="76.50" stroke="#bf4562" stroke-width="0.5"/>
<text x="371.60" y="185.81" font-size="5.3" fill="#111" text-anchor="middle" font-weight="bold" stroke="#111" stroke-width="0.12">PFS（months）</text>
<text transform="translate(269.60,107.50) rotate(-90)" x="0" y="0" font-size="4.9" font-weight="bold" fill="#111" stroke="#111" stroke-width="0.1" text-anchor="middle" textLength="57" lengthAdjust="spacingAndGlyphs">Cumulative survival rate</text>
<text x="491.20" y="49.86" font-size="4.9" fill="#222" text-anchor="middle" font-weight="bold">Group</text>
<text x="469.80" y="57.96" font-size="4.5" fill="#303030" textLength="30.60" lengthAdjust="spacingAndGlyphs">Newly diagnosed</text>
<text x="469.80" y="62.91" font-size="4.5" fill="#303030" textLength="43.20" lengthAdjust="spacingAndGlyphs">Recurrent and refractory</text>
<text x="469.80" y="68.31" font-size="4.5" fill="#303030" textLength="49.50" lengthAdjust="spacingAndGlyphs">Newly diagnosed- censored</text>
<text x="469.80" y="73.81" font-size="4.5" fill="#303030" textLength="44.20" lengthAdjust="spacingAndGlyphs">Recurrent and refractory-</text>
<text x="469.80" y="77.81" font-size="4.5" fill="#303030" textLength="15.60" lengthAdjust="spacingAndGlyphs">censored</text>
<path d="M460.80,57.45 h2.90 v-2.4 h3.70" fill="none" stroke="#7fa8d6" stroke-width="0.5"/>
<path d="M460.80,62.40 h2.90 v-2.4 h3.70" fill="none" stroke="#bf4562" stroke-width="0.5"/>
<line x1="460.80" y1="66.60" x2="467.40" y2="66.60" stroke="#7fa8d6" stroke-width="0.5"/>
<line x1="464.10" y1="65.40" x2="464.10" y2="67.80" stroke="#7fa8d6" stroke-width="0.5"/>
<line x1="460.20" y1="73.10" x2="468.80" y2="73.10" stroke="#bf4562" stroke-width="0.5"/>
<line x1="465.30" y1="71.80" x2="465.30" y2="74.40" stroke="#bf4562" stroke-width="0.5"/>
<text x="469.80" y="83.76" font-size="4.9" fill="#303030">p=0.796</text>
<line x1="280.50" y1="329.65" x2="440.00" y2="329.65" stroke="#c8c8c8" stroke-width="0.5"/>
<text x="278.70" y="331.01" font-size="2.8" fill="#3a3a3a" text-anchor="end">0.0</text>
<line x1="280.50" y1="309.22" x2="440.00" y2="309.22" stroke="#c8c8c8" stroke-width="0.5"/>
<text x="278.70" y="310.58" font-size="2.8" fill="#3a3a3a" text-anchor="end">0.2</text>
<line x1="280.50" y1="288.79" x2="440.00" y2="288.79" stroke="#c8c8c8" stroke-width="0.5"/>
<text x="278.70" y="290.15" font-size="2.8" fill="#3a3a3a" text-anchor="end">0.4</text>
<line x1="280.50" y1="268.36" x2="440.00" y2="268.36" stroke="#c8c8c8" stroke-width="0.5"/>
<text x="278.70" y="269.72" font-size="2.8" fill="#3a3a3a" text-anchor="end">0.6</text>
<line x1="280.50" y1="247.93" x2="440.00" y2="247.93" stroke="#c8c8c8" stroke-width="0.5"/>
<text x="278.70" y="249.29" font-size="2.8" fill="#3a3a3a" text-anchor="end">0.8</text>
<line x1="280.50" y1="227.50" x2="440.00" y2="227.50" stroke="#c8c8c8" stroke-width="0.5"/>
<text x="278.70" y="228.86" font-size="2.8" fill="#3a3a3a" text-anchor="end">1.0</text>
<line x1="288.25" y1="221.00" x2="288.25" y2="335.50" stroke="#c8c8c8" stroke-width="0.5"/>
<text x="288.25" y="340.59" font-size="3.136" fill="#3a3a3a" text-anchor="middle">.00</text>
<line x1="324.35" y1="221.00" x2="324.35" y2="335.50" stroke="#c8c8c8" stroke-width="0.5"/>
<text x="324.35" y="340.59" font-size="3.136" fill="#3a3a3a" text-anchor="middle">5.00</text>
<line x1="360.45" y1="221.00" x2="360.45" y2="335.50" stroke="#c8c8c8" stroke-width="0.5"/>
<text x="360.45" y="340.59" font-size="3.136" fill="#3a3a3a" text-anchor="middle">10.00</text>
<line x1="396.55" y1="221.00" x2="396.55" y2="335.50" stroke="#c8c8c8" stroke-width="0.5"/>
<text x="396.55" y="340.59" font-size="3.136" fill="#3a3a3a" text-anchor="middle">15.00</text>
<line x1="432.65" y1="221.00" x2="432.65" y2="335.50" stroke="#c8c8c8" stroke-width="0.5"/>
<text x="432.65" y="340.59" font-size="3.136" fill="#3a3a3a" text-anchor="middle">20.00</text>
<line x1="280.50" y1="221.00" x2="280.50" y2="335.50" stroke="#9a9a9a" stroke-width="0.6"/>
<line x1="280.50" y1="335.50" x2="440.00" y2="335.50" stroke="#9a9a9a" stroke-width="0.6"/>
<path d="M288.25,227.50 L299.50,227.50 L299.50,231.50 L309.50,231.50 L309.50,235.50 L346.50,235.50 L346.50,241.50 L418.00,241.50" fill="none" stroke="#7fa8d6" stroke-width="0.5"/>
<path d="M288.25,226.50 L324.50,226.50 L324.50,237.50 L427.00,237.50" fill="none" stroke="#bf4562" stroke-width="0.6"/>
<line x1="318.00" y1="234.50" x2="318.00" y2="236.50" stroke="#7fa8d6" stroke-width="0.5"/>
<line x1="322.50" y1="234.50" x2="322.50" y2="236.50" stroke="#7fa8d6" stroke-width="0.5"/>
<line x1="341.25" y1="234.50" x2="341.25" y2="236.50" stroke="#7fa8d6" stroke-width="0.5"/>
<line x1="348.00" y1="240.50" x2="348.00" y2="242.50" stroke="#7fa8d6" stroke-width="0.5"/>
<line x1="353.75" y1="240.50" x2="353.75" y2="242.50" stroke="#7fa8d6" stroke-width="0.5"/>
<line x1="368.75" y1="240.50" x2="368.75" y2="242.50" stroke="#7fa8d6" stroke-width="0.5"/>
<line x1="373.25" y1="240.50" x2="373.25" y2="242.50" stroke="#7fa8d6" stroke-width="0.5"/>
<line x1="376.25" y1="240.50" x2="376.25" y2="242.50" stroke="#7fa8d6" stroke-width="0.5"/>
<line x1="379.50" y1="240.50" x2="379.50" y2="242.50" stroke="#7fa8d6" stroke-width="0.5"/>
<line x1="385.00" y1="240.50" x2="385.00" y2="242.50" stroke="#7fa8d6" stroke-width="0.5"/>
<line x1="393.75" y1="240.50" x2="393.75" y2="242.50" stroke="#7fa8d6" stroke-width="0.5"/>
<line x1="413.00" y1="240.50" x2="413.00" y2="242.50" stroke="#7fa8d6" stroke-width="0.5"/>
<line x1="418.00" y1="240.50" x2="418.00" y2="242.50" stroke="#7fa8d6" stroke-width="0.5"/>
<line x1="348.00" y1="236.50" x2="348.00" y2="238.50" stroke="#bf4562" stroke-width="0.5"/>
<line x1="363.25" y1="236.50" x2="363.25" y2="238.50" stroke="#bf4562" stroke-width="0.5"/>
<line x1="380.75" y1="236.50" x2="380.75" y2="238.50" stroke="#bf4562" stroke-width="0.5"/>
<line x1="387.00" y1="236.50" x2="387.00" y2="238.50" stroke="#bf4562" stroke-width="0.5"/>
<line x1="401.25" y1="236.50" x2="401.25" y2="238.50" stroke="#bf4562" stroke-width="0.5"/>
<line x1="408.00" y1="236.50" x2="408.00" y2="238.50" stroke="#bf4562" stroke-width="0.5"/>
<line x1="422.50" y1="236.50" x2="422.50" y2="238.50" stroke="#bf4562" stroke-width="0.5"/>
<line x1="426.25" y1="236.50" x2="426.25" y2="238.50" stroke="#bf4562" stroke-width="0.5"/>
<text x="359.50" y="348.86" font-size="4.9" fill="#111" text-anchor="middle" font-weight="bold" stroke="#111" stroke-width="0.12">OS(months)</text>
<text transform="translate(269.60,279.50) rotate(-90)" x="0" y="0" font-size="4.3" font-weight="bold" fill="#111" stroke="#111" stroke-width="0.1" text-anchor="middle" textLength="49" lengthAdjust="spacingAndGlyphs">Cumulative survival rate</text>
<text x="467.00" y="227.59" font-size="4.7" fill="#222" text-anchor="middle" font-weight="bold">Group</text>
<text x="448.20" y="234.52" font-size="4.0" fill="#303030" textLength="27.40" lengthAdjust="spacingAndGlyphs">Newly diagnosed</text>
<text x="448.20" y="238.62" font-size="4.0" fill="#303030" textLength="38.80" lengthAdjust="spacingAndGlyphs">Recurrent and refractory</text>
<text x="448.20" y="243.52" font-size="4.0" fill="#303030" textLength="44.40" lengthAdjust="spacingAndGlyphs">Newly diagnosed- censored</text>
<text x="448.20" y="248.12" font-size="4.0" fill="#303030" textLength="41.20" lengthAdjust="spacingAndGlyphs">Recurrent and refractory -</text>
<text x="448.20" y="251.72" font-size="4.0" fill="#303030" textLength="14.00" lengthAdjust="spacingAndGlyphs">censored</text>
<path d="M441.30,234.20 h2.40 v-2.4 h3.20" fill="none" stroke="#7fa8d6" stroke-width="0.5"/>
<path d="M441.30,238.30 h2.40 v-2.4 h3.20" fill="none" stroke="#bf4562" stroke-width="0.5"/>
<line x1="441.30" y1="242.00" x2="446.90" y2="242.00" stroke="#7fa8d6" stroke-width="0.5"/>
<line x1="444.10" y1="240.80" x2="444.10" y2="243.20" stroke="#7fa8d6" stroke-width="0.5"/>
<line x1="440.70" y1="247.60" x2="448.30" y2="247.60" stroke="#bf4562" stroke-width="0.5"/>
<line x1="445.30" y1="246.30" x2="445.30" y2="248.90" stroke="#bf4562" stroke-width="0.5"/>
<text x="448.20" y="258.63" font-size="4.3" fill="#303030">p=0.755</text>
<line x1="268.75" y1="376.30" x2="438.20" y2="376.30" stroke="#333" stroke-width="0.7"/>
<line x1="268.75" y1="392.50" x2="438.20" y2="392.50" stroke="#333" stroke-width="0.6"/>
<line x1="268.75" y1="594.50" x2="438.75" y2="594.50" stroke="#333" stroke-width="0.7"/>
<text x="317.00" y="382.60" font-size="5.0" fill="#3c3c3c">All<tspan fill="#9a9a9a" font-size="5.00" dy="-0.7">↵</tspan></text>
<text x="358.60" y="382.60" font-size="5.0" fill="#3c3c3c">Newly diagnosed<tspan fill="#9a9a9a" font-size="5.00" dy="-0.7">↵</tspan></text>
<text x="401.40" y="382.60" font-size="5.0" fill="#3c3c3c">Recurrent</text>
<text x="439.60" y="382.60" font-size="5.0" fill="#3c3c3c" text-anchor="end">and<tspan fill="#9a9a9a" font-size="5.00" dy="-0.7">↵</tspan></text>
<text x="401.40" y="390.10" font-size="5.0" fill="#3c3c3c">refractory <tspan fill="#9a9a9a" font-size="5.00" dy="-0.7">↵</tspan></text>
<text x="270.00" y="399.10" font-size="5.0" fill="#3c3c3c">Fatigue<tspan fill="#9a9a9a" font-size="5.00" dy="-0.7">↵</tspan></text>
<text x="316.50" y="399.10" font-size="5.0" fill="#3c3c3c">22 (57.9%)   <tspan fill="#9a9a9a" font-size="5.00" dy="-0.7">↵</tspan></text>
<text x="358.60" y="399.10" font-size="5.0" fill="#3c3c3c">15 (53.6%)   <tspan fill="#9a9a9a" font-size="5.00" dy="-0.7">↵</tspan></text>
<text x="401.40" y="399.10" font-size="5.0" fill="#3c3c3c">7 (70.0%)  <tspan fill="#9a9a9a" font-size="5.00" dy="-0.7">↵</tspan></text>
<text x="439.50" y="399.10" font-size="5.0" fill="#3c3c3c"><tspan fill="#9a9a9a" font-size="5.00" dy="-0.7">↵</tspan></text>
<text x="270.00" y="419.10" font-size="5.0" fill="#3c3c3c">Infection<tspan fill="#9a9a9a" font-size="5.00" dy="-0.7">↵</tspan></text>
<text x="316.50" y="419.10" font-size="5.0" fill="#3c3c3c">18 (47.4%)   <tspan fill="#9a9a9a" font-size="5.00" dy="-0.7">↵</tspan></text>
<text x="358.60" y="419.10" font-size="5.0" fill="#3c3c3c">12 (42.9%)   <tspan fill="#9a9a9a" font-size="5.00" dy="-0.7">↵</tspan></text>
<text x="401.40" y="419.10" font-size="5.0" fill="#3c3c3c">6 (60.0%)  <tspan fill="#9a9a9a" font-size="5.00" dy="-0.7">↵</tspan></text>
<text x="439.50" y="419.10" font-size="5.0" fill="#3c3c3c"><tspan fill="#9a9a9a" font-size="5.00" dy="-0.7">↵</tspan></text>
<text x="270.00" y="439.10" font-size="5.0" fill="#3c3c3c">Fever<tspan fill="#9a9a9a" font-size="5.00" dy="-0.7">↵</tspan></text>
<text x="316.50" y="439.10" font-size="5.0" fill="#3c3c3c">16 (42.1%)   <tspan fill="#9a9a9a" font-size="5.00" dy="-0.7">↵</tspan></text>
<text x="358.60" y="439.10" font-size="5.0" fill="#3c3c3c">12 (42.9%)   <tspan fill="#9a9a9a" font-size="5.00" dy="-0.7">↵</tspan></text>
<text x="401.40" y="439.10" font-size="5.0" fill="#3c3c3c">4 (40.0%)  <tspan fill="#9a9a9a" font-size="5.00" dy="-0.7">↵</tspan></text>
<text x="439.50" y="439.10" font-size="5.0" fill="#3c3c3c"><tspan fill="#9a9a9a" font-size="5.00" dy="-0.7">↵</tspan></text>
<text x="270.00" y="459.60" font-size="5.0" fill="#3c3c3c">Constipation<tspan fill="#9a9a9a" font-size="5.00" dy="-0.7">↵</tspan></text>
<text x="316.50" y="459.60" font-size="5.0" fill="#3c3c3c">12 (31.6%)   <tspan fill="#9a9a9a" font-size="5.00" dy="-0.7">↵</tspan></text>
<text x="358.60" y="459.60" font-size="5.0" fill="#3c3c3c">7 (25.0%)   <tspan fill="#9a9a9a" font-size="5.00" dy="-0.7">↵</tspan></text>
<text x="401.40" y="459.60" font-size="5.0" fill="#3c3c3c">5 (50.0%)  <tspan fill="#9a9a9a" font-size="5.00" dy="-0.7">↵</tspan></text>
<text x="439.50" y="459.60" font-size="5.0" fill="#3c3c3c"><tspan fill="#9a9a9a" font-size="5.00" dy="-0.7">↵</tspan></text>
<text x="270.00" y="479.60" font-size="5.0" fill="#3c3c3c">Diarrhea<tspan fill="#9a9a9a" font-size="5.00" dy="-0.7">↵</tspan></text>
<text x="316.50" y="479.60" font-size="5.0" fill="#3c3c3c">10 (26.3%)   <tspan fill="#9a9a9a" font-size="5.00" dy="-0.7">↵</tspan></text>
<text x="358.60" y="479.60" font-size="5.0" fill="#3c3c3c">7 (25.0%)   <tspan fill="#9a9a9a" font-size="5.00" dy="-0.7">↵</tspan></text>
<text x="401.40" y="479.60" font-size="5.0" fill="#3c3c3c">3 (30.0%)  <tspan fill="#9a9a9a" font-size="5.00" dy="-0.7">↵</tspan></text>
<text x="439.50" y="479.60" font-size="5.0" fill="#3c3c3c"><tspan fill="#9a9a9a" font-size="5.00" dy="-0.7">↵</tspan></text>
<text x="270.00" y="499.60" font-size="5.0" fill="#3c3c3c">Nausea<tspan fill="#9a9a9a" font-size="5.00" dy="-0.7">↵</tspan></text>
<text x="316.50" y="499.60" font-size="5.0" fill="#3c3c3c">7 (18.4%)   <tspan fill="#9a9a9a" font-size="5.00" dy="-0.7">↵</tspan></text>
<text x="358.60" y="499.60" font-size="5.0" fill="#3c3c3c">6 (21.4%)   <tspan fill="#9a9a9a" font-size="5.00" dy="-0.7">↵</tspan></text>
<text x="401.40" y="499.60" font-size="5.0" fill="#3c3c3c">1 (10.0%)  <tspan fill="#9a9a9a" font-size="5.00" dy="-0.7">↵</tspan></text>
<text x="439.50" y="499.60" font-size="5.0" fill="#3c3c3c"><tspan fill="#9a9a9a" font-size="5.00" dy="-0.7">↵</tspan></text>
<text x="270.00" y="520.10" font-size="5.0" fill="#3c3c3c">Infusion reaction<tspan fill="#9a9a9a" font-size="5.00" dy="-0.7">↵</tspan></text>
<text x="316.50" y="520.10" font-size="5.0" fill="#3c3c3c">7 (18.4%)   <tspan fill="#9a9a9a" font-size="5.00" dy="-0.7">↵</tspan></text>
<text x="358.60" y="520.10" font-size="5.0" fill="#3c3c3c">4 (14.3%)   <tspan fill="#9a9a9a" font-size="5.00" dy="-0.7">↵</tspan></text>
<text x="401.40" y="520.10" font-size="5.0" fill="#3c3c3c">3 (30.0%)  <tspan fill="#9a9a9a" font-size="5.00" dy="-0.7">↵</tspan></text>
<text x="439.50" y="520.10" font-size="5.0" fill="#3c3c3c"><tspan fill="#9a9a9a" font-size="5.00" dy="-0.7">↵</tspan></text>
<text x="270.00" y="540.85" font-size="5.0" fill="#3c3c3c">Peripheral</text>
<text x="316.50" y="540.85" font-size="5.0" fill="#3c3c3c">7 (18.4%)   <tspan fill="#9a9a9a" font-size="5.00" dy="-0.7">↵</tspan></text>
<text x="358.60" y="540.85" font-size="5.0" fill="#3c3c3c">3 (10.7%)   <tspan fill="#9a9a9a" font-size="5.00" dy="-0.7">↵</tspan></text>
<text x="401.40" y="540.85" font-size="5.0" fill="#3c3c3c">4 (40.0%)  <tspan fill="#9a9a9a" font-size="5.00" dy="-0.7">↵</tspan></text>
<text x="439.50" y="540.85" font-size="5.0" fill="#3c3c3c"><tspan fill="#9a9a9a" font-size="5.00" dy="-0.7">↵</tspan></text>
<text x="270.00" y="561.35" font-size="5.0" fill="#3c3c3c">Cardiac arrest<tspan fill="#9a9a9a" font-size="5.00" dy="-0.7">↵</tspan></text>
<text x="316.50" y="561.35" font-size="5.0" fill="#3c3c3c">3 (7.9%)   <tspan fill="#9a9a9a" font-size="5.00" dy="-0.7">↵</tspan></text>
<text x="358.60" y="561.35" font-size="5.0" fill="#3c3c3c">3 (10.7%)   <tspan fill="#9a9a9a" font-size="5.00" dy="-0.7">↵</tspan></text>
<text x="401.40" y="561.35" font-size="5.0" fill="#3c3c3c">0 (0%)  <tspan fill="#9a9a9a" font-size="5.00" dy="-0.7">↵</tspan></text>
<text x="439.50" y="561.35" font-size="5.0" fill="#3c3c3c"><tspan fill="#9a9a9a" font-size="5.00" dy="-0.7">↵</tspan></text>
<text x="270.00" y="581.35" font-size="5.0" fill="#3c3c3c">Back pain<tspan fill="#9a9a9a" font-size="5.00" dy="-0.7">↵</tspan></text>
<text x="316.50" y="581.35" font-size="5.0" fill="#3c3c3c">1 (2.6%)   <tspan fill="#9a9a9a" font-size="5.00" dy="-0.7">↵</tspan></text>
<text x="358.60" y="581.35" font-size="5.0" fill="#3c3c3c">1 (3.6%)   <tspan fill="#9a9a9a" font-size="5.00" dy="-0.7">↵</tspan></text>
<text x="401.40" y="581.35" font-size="5.0" fill="#3c3c3c">0 (0%)  <tspan fill="#9a9a9a" font-size="5.00" dy="-0.7">↵</tspan></text>
<text x="439.50" y="581.35" font-size="5.0" fill="#3c3c3c"><tspan fill="#9a9a9a" font-size="5.00" dy="-0.7">↵</tspan></text>
<text x="270.00" y="592.60" font-size="5.0" fill="#3c3c3c">Muscle soreness<tspan fill="#9a9a9a" font-size="5.00" dy="-0.7">↵</tspan></text>
<text x="316.50" y="592.60" font-size="5.0" fill="#3c3c3c">1 (2.6%)   <tspan fill="#9a9a9a" font-size="5.00" dy="-0.7">↵</tspan></text>
<text x="358.60" y="592.60" font-size="5.0" fill="#3c3c3c">1 (3.6%)   <tspan fill="#9a9a9a" font-size="5.00" dy="-0.7">↵</tspan></text>
<text x="401.40" y="592.60" font-size="5.0" fill="#3c3c3c">0 (0%)  <tspan fill="#9a9a9a" font-size="5.00" dy="-0.7">↵</tspan></text>
<text x="439.50" y="592.60" font-size="5.0" fill="#3c3c3c"><tspan fill="#9a9a9a" font-size="5.00" dy="-0.7">↵</tspan></text>
<text x="270.00" y="549.60" font-size="5.0" fill="#3c3c3c">neuropathy<tspan fill="#9a9a9a" font-size="5.00" dy="-0.7">↵</tspan></text>
<text x="270.00" y="600.30" font-size="5.0" fill="#3c3c3c"><tspan fill="#9a9a9a" font-size="5.00" dy="-0.7">↵</tspan></text>
</svg>
</body>
</html>
